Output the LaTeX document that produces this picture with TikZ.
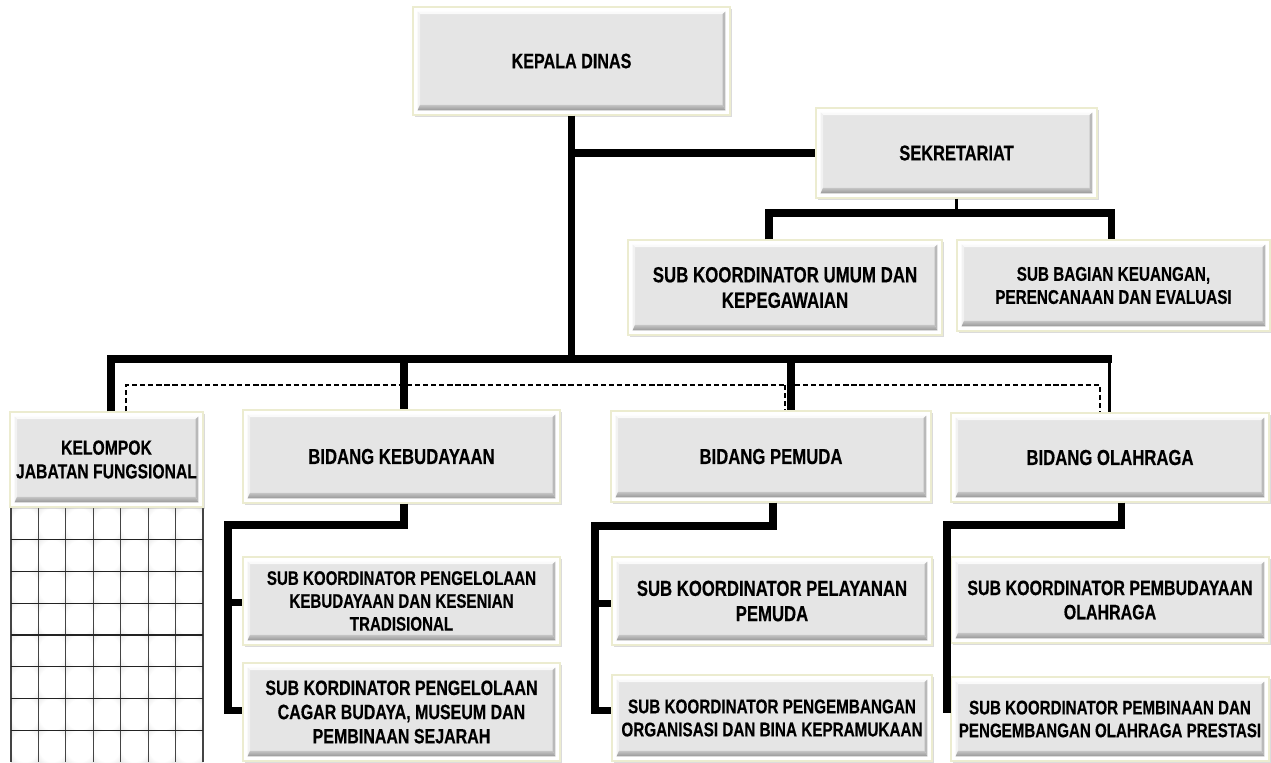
\documentclass[tikz,border=0pt]{standalone}
\usepackage{fontspec}
\setmainfont{Liberation Sans}[FakeStretch=0.77, BoldFeatures={FakeBold=0.35}]
\usetikzlibrary{shadows}
\definecolor{face}{RGB}{229,229,229}
\definecolor{framec}{RGB}{236,236,208}
\definecolor{bevB}{RGB}{150,150,150}
\definecolor{bevR}{RGB}{185,185,185}
\definecolor{bevL}{RGB}{242,242,242}
\definecolor{bevT}{RGB}{250,250,250}
\definecolor{gridc}{RGB}{35,35,35}
\pgfdeclareradialshading{cellglow}{\pgfpoint{0bp}{0bp}}{color(0bp)=(white); color(24bp)=(white); color(38bp)=(gray!20); color(50bp)=(gray!42); color(72bp)=(gray!50)}
\tikzset{
  orgbox/.style={draw=framec, line width=0.8pt, fill=white, inner sep=0pt, align=center,
    drop shadow={shadow xshift=0.9pt, shadow yshift=-1.3pt, opacity=0.28},
    path picture={
      \fill[face] ([shift={(2.6pt,2.6pt)}]path picture bounding box.south west) rectangle ([shift={(-2.6pt,-2.6pt)}]path picture bounding box.north east);
      \fill[bevT] ([shift={(2.6pt,-2.6pt)}]path picture bounding box.north west) -- ([shift={(-2.6pt,-2.6pt)}]path picture bounding box.north east) -- ([shift={(-4.2pt,-4pt)}]path picture bounding box.north east) -- ([shift={(4pt,-4pt)}]path picture bounding box.north west) -- cycle;
      \fill[bevL] ([shift={(2.6pt,2.6pt)}]path picture bounding box.south west) -- ([shift={(2.6pt,-2.6pt)}]path picture bounding box.north west) -- ([shift={(4pt,-4pt)}]path picture bounding box.north west) -- ([shift={(4pt,5.8pt)}]path picture bounding box.south west) -- cycle;
      \fill[bevR] ([shift={(-2.6pt,2.6pt)}]path picture bounding box.south east) -- ([shift={(-2.6pt,-2.6pt)}]path picture bounding box.north east) -- ([shift={(-4.2pt,-4pt)}]path picture bounding box.north east) -- ([shift={(-4.2pt,5.8pt)}]path picture bounding box.south east) -- cycle;
      \shade[top color=bevB!55, bottom color=bevB] ([shift={(2.6pt,2.6pt)}]path picture bounding box.south west) -- ([shift={(-2.6pt,2.6pt)}]path picture bounding box.south east) -- ([shift={(-4.2pt,5.8pt)}]path picture bounding box.south east) -- ([shift={(4pt,5.8pt)}]path picture bounding box.south west) -- cycle;
    }},
  conn/.style={line width=4pt, line join=miter, black},
  thinconn/.style={line width=1.7pt, black},
  dashline/.style={line width=0.9pt, dash pattern=on 3pt off 1.6pt, black},
}
\newcommand{\obox}[7]{%
  \pgfmathsetmacro\bw{(#4-#2)*0.02}%
  \pgfmathsetmacro\bh{(#5-#3)*0.02}%
  \pgfmathsetmacro\bfs{#6*1.065}%
  \pgfmathsetmacro\bls{#6*1.24}%
  \node[orgbox, minimum width=\bw cm, minimum height=\bh cm,
        font={\bfseries\fontsize{\bfs}{\bls}\selectfont}] (#1) at ({(#2+#4)/2},{(#3+#5)/2}) {#7};}
\begin{document}
\begin{tikzpicture}[x=0.02cm, y=-0.02cm]
\useasboundingbox (0,0) rectangle (1271,762);
\fill[white] (0,0) rectangle (1271,762);

% grid under KELOMPOK
\foreach \i in {0,...,6}{
  \foreach \j in {0,...,7}{
    \pgfmathsetmacro\xa{11+\i*27.43}
    \pgfmathsetmacro\xb{11+(\i+1)*27.43}
    \pgfmathsetmacro\ya{508+\j*31.75}
    \pgfmathsetmacro\yb{508+(\j+1)*31.75}
    \shade[shading=cellglow] (\xa,\ya) rectangle (\xb,\yb);
  }
}
\foreach \i in {0,...,7}{
  \pgfmathsetmacro\xa{11+\i*27.43}
  \draw[gridc!85, line width=0.65pt] (\xa,508) -- (\xa,762);
}
\foreach \j in {1,...,7}{
  \pgfmathsetmacro\ya{508+\j*31.75}
  \draw[gridc, line width=0.65pt] (11,\ya) -- (203,\ya);
}

% boxes
\obox{kepala}{413}{7}{730}{115}{11.2}{KEPALA DINAS}
\obox{sek}{816}{108}{1097}{198}{11.4}{SEKRETARIAT}
\obox{umum}{628}{240}{942}{335}{11.7}{SUB KOORDINATOR UMUM DAN\\KEPEGAWAIAN}
\obox{keu}{957}{240}{1270}{331}{10.6}{SUB BAGIAN KEUANGAN,\\PERENCANAAN DAN EVALUASI}
\obox{kel}{10}{412}{203}{507}{10.9}{KELOMPOK\\JABATAN FUNGSIONAL}
\obox{bkeb}{243}{410}{560}{503}{11.6}{BIDANG KEBUDAYAAN}
\obox{bpem}{611}{411}{931}{502}{11.6}{BIDANG PEMUDA}
\obox{bola}{951}{413}{1269}{502}{11.6}{BIDANG OLAHRAGA}
\obox{s1}{243}{557}{560}{645}{10.5}{SUB KOORDINATOR PENGELOLAAN\\KEBUDAYAAN DAN KESENIAN\\TRADISIONAL}
\obox{s2}{243}{663}{560}{761}{11.1}{SUB KORDINATOR PENGELOLAAN\\CAGAR BUDAYA, MUSEUM DAN\\PEMBINAAN SEJARAH}
\obox{p1}{612}{557}{932}{645}{11.6}{SUB KOORDINATOR PELAYANAN\\PEMUDA}
\obox{p2}{612}{675}{932}{761}{10.6}{SUB KOORDINATOR PENGEMBANGAN\\ORGANISASI DAN BINA KEPRAMUKAAN}
\obox{o1}{951}{557}{1269}{643}{11.1}{SUB KOORDINATOR PEMBUDAYAAN\\OLAHRAGA}
\obox{o2}{951}{677}{1269}{761}{10.5}{SUB KOORDINATOR PEMBINAAN DAN\\PENGEMBANGAN OLAHRAGA PRESTASI}

% coordinates
\coordinate (b1) at (111,359);
\coordinate (b2) at (404,359);
\coordinate (b3) at (791,359);
\coordinate (b4) at (1109,359);
\coordinate (sb1) at (769,213);
\coordinate (sb2) at (1111,213);
\coordinate (dL) at (126,385);
\coordinate (dM) at (785,385);
\coordinate (dR) at (1100,385);
\coordinate (kb) at (404,525);
\coordinate (kbL) at (228,525);
\coordinate (ky1) at (228,602);
\coordinate (ky2) at (228,710);
\coordinate (pb) at (773,526);
\coordinate (pbL) at (595,526);
\coordinate (py1) at (595,603);
\coordinate (py2) at (595,710);
\coordinate (ob) at (1121,525);
\coordinate (obL) at (947,525);
\coordinate (oEnd) at (947,713);

% dashed functional line
\draw[dashline] (dL |- kel.north) -- (dL) -- (dR) -- (dR |- bola.north);
\draw[dashline] (dM) -- (dM |- bpem.north);

% connectors
\draw[conn] (kepala.south) -- (kepala.south |- b1);
\draw[conn] (kepala.south |- sek.west) -- (sek.west);
\draw[thinconn] (sek.south) -- (sek.south |- sb1);
\draw[conn] (sb1 |- umum.north) -- (sb1) -- (sb2) -- (sb2 |- keu.north);
\draw[conn] (b1 |- kel.north) -- (b1) -- ([xshift=1.5pt]b4);
\draw[conn] (b2) -- (b2 |- bkeb.north);
\draw[conn] (b3) -- (b3 |- bpem.north);
\draw[thinconn] (b4) -- (b4 |- bola.north);
\draw[conn] (kb |- bkeb.south) -- (kb) -- (kbL) -- (ky2) -- (ky2 -| s2.west);
\draw[conn] (ky1) -- (ky1 -| s1.west);
\draw[conn] (pb |- bpem.south) -- (pb) -- (pbL) -- (py2) -- (py2 -| p2.west);
\draw[conn] (py1) -- (py1 -| p1.west);
\draw[conn] (ob |- bola.south) -- (ob) -- (obL) -- (oEnd);
\end{tikzpicture}
\end{document}
